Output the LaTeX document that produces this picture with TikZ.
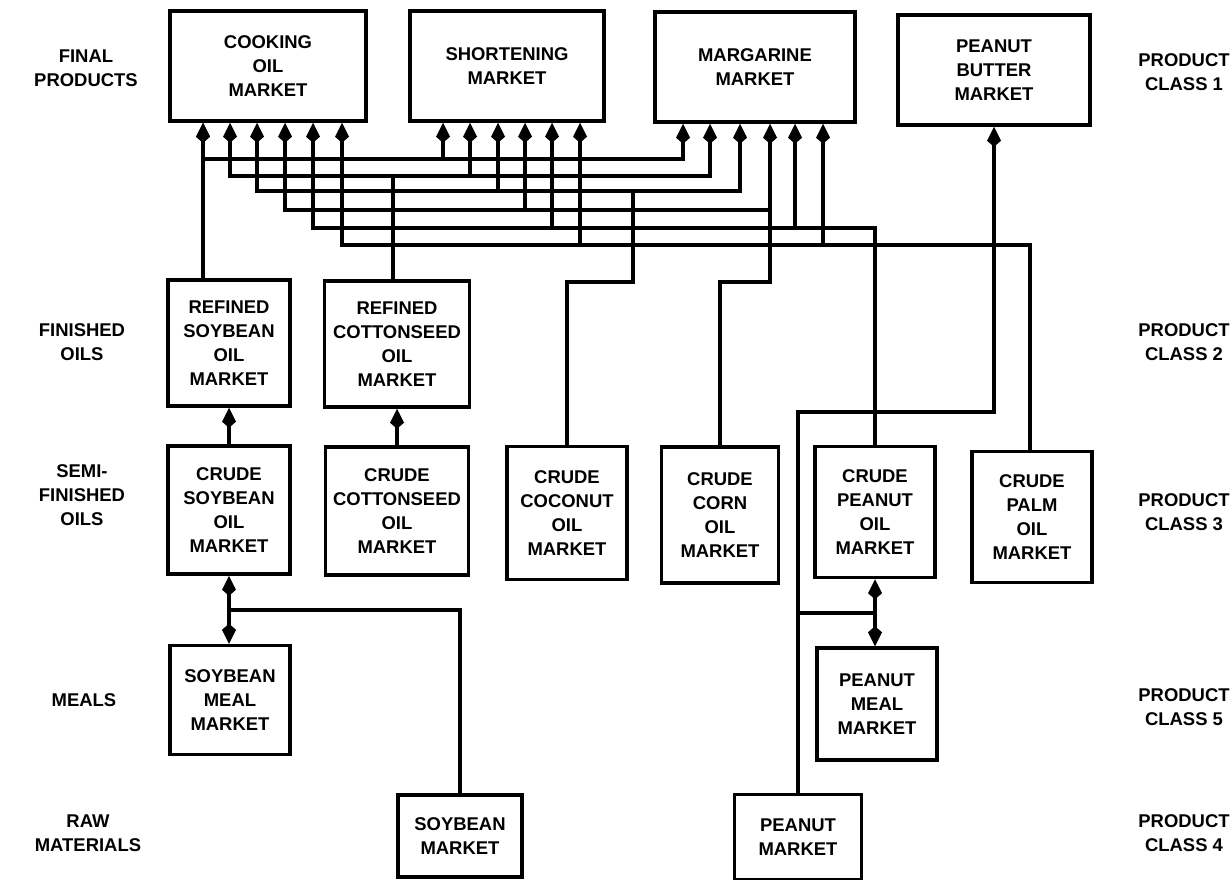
\documentclass[tikz,border=0pt]{standalone}
\usepackage{fontspec}
\setmainfont{Liberation Sans}
\usetikzlibrary{arrows.meta,positioning}

\tikzset{
	mkt/.style={draw, line width=2pt, align=center, inner sep=1pt, font=\bfseries\fontsize{10.5}{13.6}\selectfont},
	side/.style={align=center, font=\bfseries\fontsize{10.5}{13.6}\selectfont},
	link/.style={line width=2.2pt, line cap=rect},
}

\begin{document}
\begin{tikzpicture}[x=0.02cm, y=-0.02cm, >={Kite[length=0.4cm, width=0.28cm, inset=0.12cm]}]
			\useasboundingbox (0,0) rectangle (1232,880);
			
			% Define nodes
			\node[mkt, minimum width=3.92cm, minimum height=2.2cm] (cook) at (268,66) {COOKING\\OIL\\MARKET};
			\node[mkt, minimum width=3.88cm, minimum height=2.2cm] (short) at (507,66) {SHORTENING\\MARKET};
			\node[mkt, minimum width=4cm, minimum height=2.2cm] (marg) at (755,67) {MARGARINE\\MARKET};
			\node[mkt, minimum width=3.84cm, minimum height=2.2cm] (pbut) at (994,70) {PEANUT\\BUTTER\\MARKET};
			
			\node[mkt, minimum width=2.44cm, minimum height=2.52cm] (soyref) at (229,343) {REFINED\\SOYBEAN\\OIL\\MARKET};
			\node[mkt, minimum width=2.9cm, minimum height=2.52cm] (cotref) at (397,344) {REFINED\\COTTONSEED\\OIL\\MARKET};
			
			\node[mkt, minimum width=2.44cm, minimum height=2.56cm] (soycr) at (229,510) {CRUDE\\SOYBEAN\\OIL\\MARKET};
			\node[mkt, minimum width=2.86cm, minimum height=2.56cm] (cotcr) at (397,511) {CRUDE\\COTTONSEED\\OIL\\MARKET};
			\node[mkt, minimum width=2.4cm, minimum height=2.66cm] (coco) at (567,513) {CRUDE\\COCONUT\\OIL\\MARKET};
			\node[mkt, minimum width=2.34cm, minimum height=2.72cm] (corn) at (720,515) {CRUDE\\CORN\\OIL\\MARKET};
			\node[mkt, minimum width=2.4cm, minimum height=2.62cm] (pnut) at (875,512) {CRUDE\\PEANUT\\OIL\\MARKET};
			\node[mkt, minimum width=2.4cm, minimum height=2.62cm] (palm) at (1032,517) {CRUDE\\PALM\\OIL\\MARKET};
			
			\node[mkt, minimum width=2.4cm, minimum height=2.18cm] (soymeal) at (230,700) {SOYBEAN\\MEAL\\MARKET};
			\node[mkt, minimum width=2.4cm, minimum height=2.24cm] (pmeal) at (877,704) {PEANUT\\MEAL\\MARKET};
			\node[mkt, minimum width=2.48cm, minimum height=1.64cm] (soymkt) at (460,836) {SOYBEAN\\MARKET};
			\node[mkt, minimum width=2.54cm, minimum height=1.7cm] (pmkt) at (798,837) {PEANUT\\MARKET};
			
			% Side labels
			\node[side] (lfinal) at (86,68) {FINAL\\PRODUCTS};
			\node[side] (lfin) at (82,342) {FINISHED\\OILS};
			\node[side] (lsemi) at (82,495) {SEMI-\\FINISHED\\OILS};
			\node[side] (lmeal) at (84,700) {MEALS};
			\node[side] (lraw) at (88,833) {RAW\\MATERIALS};
			\node[side] (rc1) at (1184,72) {PRODUCT\\CLASS 1};
			\node[side] (rc2) at (1184,342) {PRODUCT\\CLASS 2};
			\node[side] (rc3) at (1184,512) {PRODUCT\\CLASS 3};
			\node[side] (rc5) at (1184,707) {PRODUCT\\CLASS 5};
			\node[side] (rc4) at (1184,833) {PRODUCT\\CLASS 4};
			
			% Connect the nodes
			\draw[link, ->] (soycr.north) -- (soyref.south);
			\draw[link, ->] (cotcr.north) -- (cotref.south);
			\draw[link, <->] (soycr.south) -- (soycr.south |- soymeal.north);
			\draw[link] (soycr.south |- 0,610) -| (soymkt.north);
			\draw[link, <->] (pnut.south) -- (pnut.south |- pmeal.north);
			\draw[link] (pmkt.north |- 0,613) -- (pnut.south |- 0,613);
			\draw[link, ->] (pmkt.north) -- (pmkt.north |- 0,412) -| (pbut.south);
			
			% Oils to final products
			\draw[link, ->] (203,0 |- soyref.north) -- (203,0 |- cook.south);
			\draw[link] (393,0 |- cotref.north) -- (393,176);
			\draw[link] (coco.north) -- (coco.north |- 0,282) -- (633,282) -- (633,191);
			\draw[link] (corn.north) -- (corn.north |- 0,282) -- (770,282) -- (770,210);
			\draw[link] (pnut.north) -- (pnut.north |- 0,228);
			\draw[link] (1030,0 |- palm.north) -- (1030,245);
			\foreach \c/\s/\m/\e/\l in {203/443/683/683/159, 230/470/710/710/176, 257/498/740/740/191,
					285/525/770/770/210, 313/552/795/875/228, 342/580/823/1030/245} {
				\draw[link] (\c,\l) -- (\e,\l);
				\foreach \x/\nd in {\c/cook, \s/short, \m/marg}
					\draw[link, ->] (\x,\l) -- (\x,0 |- \nd.south);
			}
			
\end{tikzpicture}
\end{document}
